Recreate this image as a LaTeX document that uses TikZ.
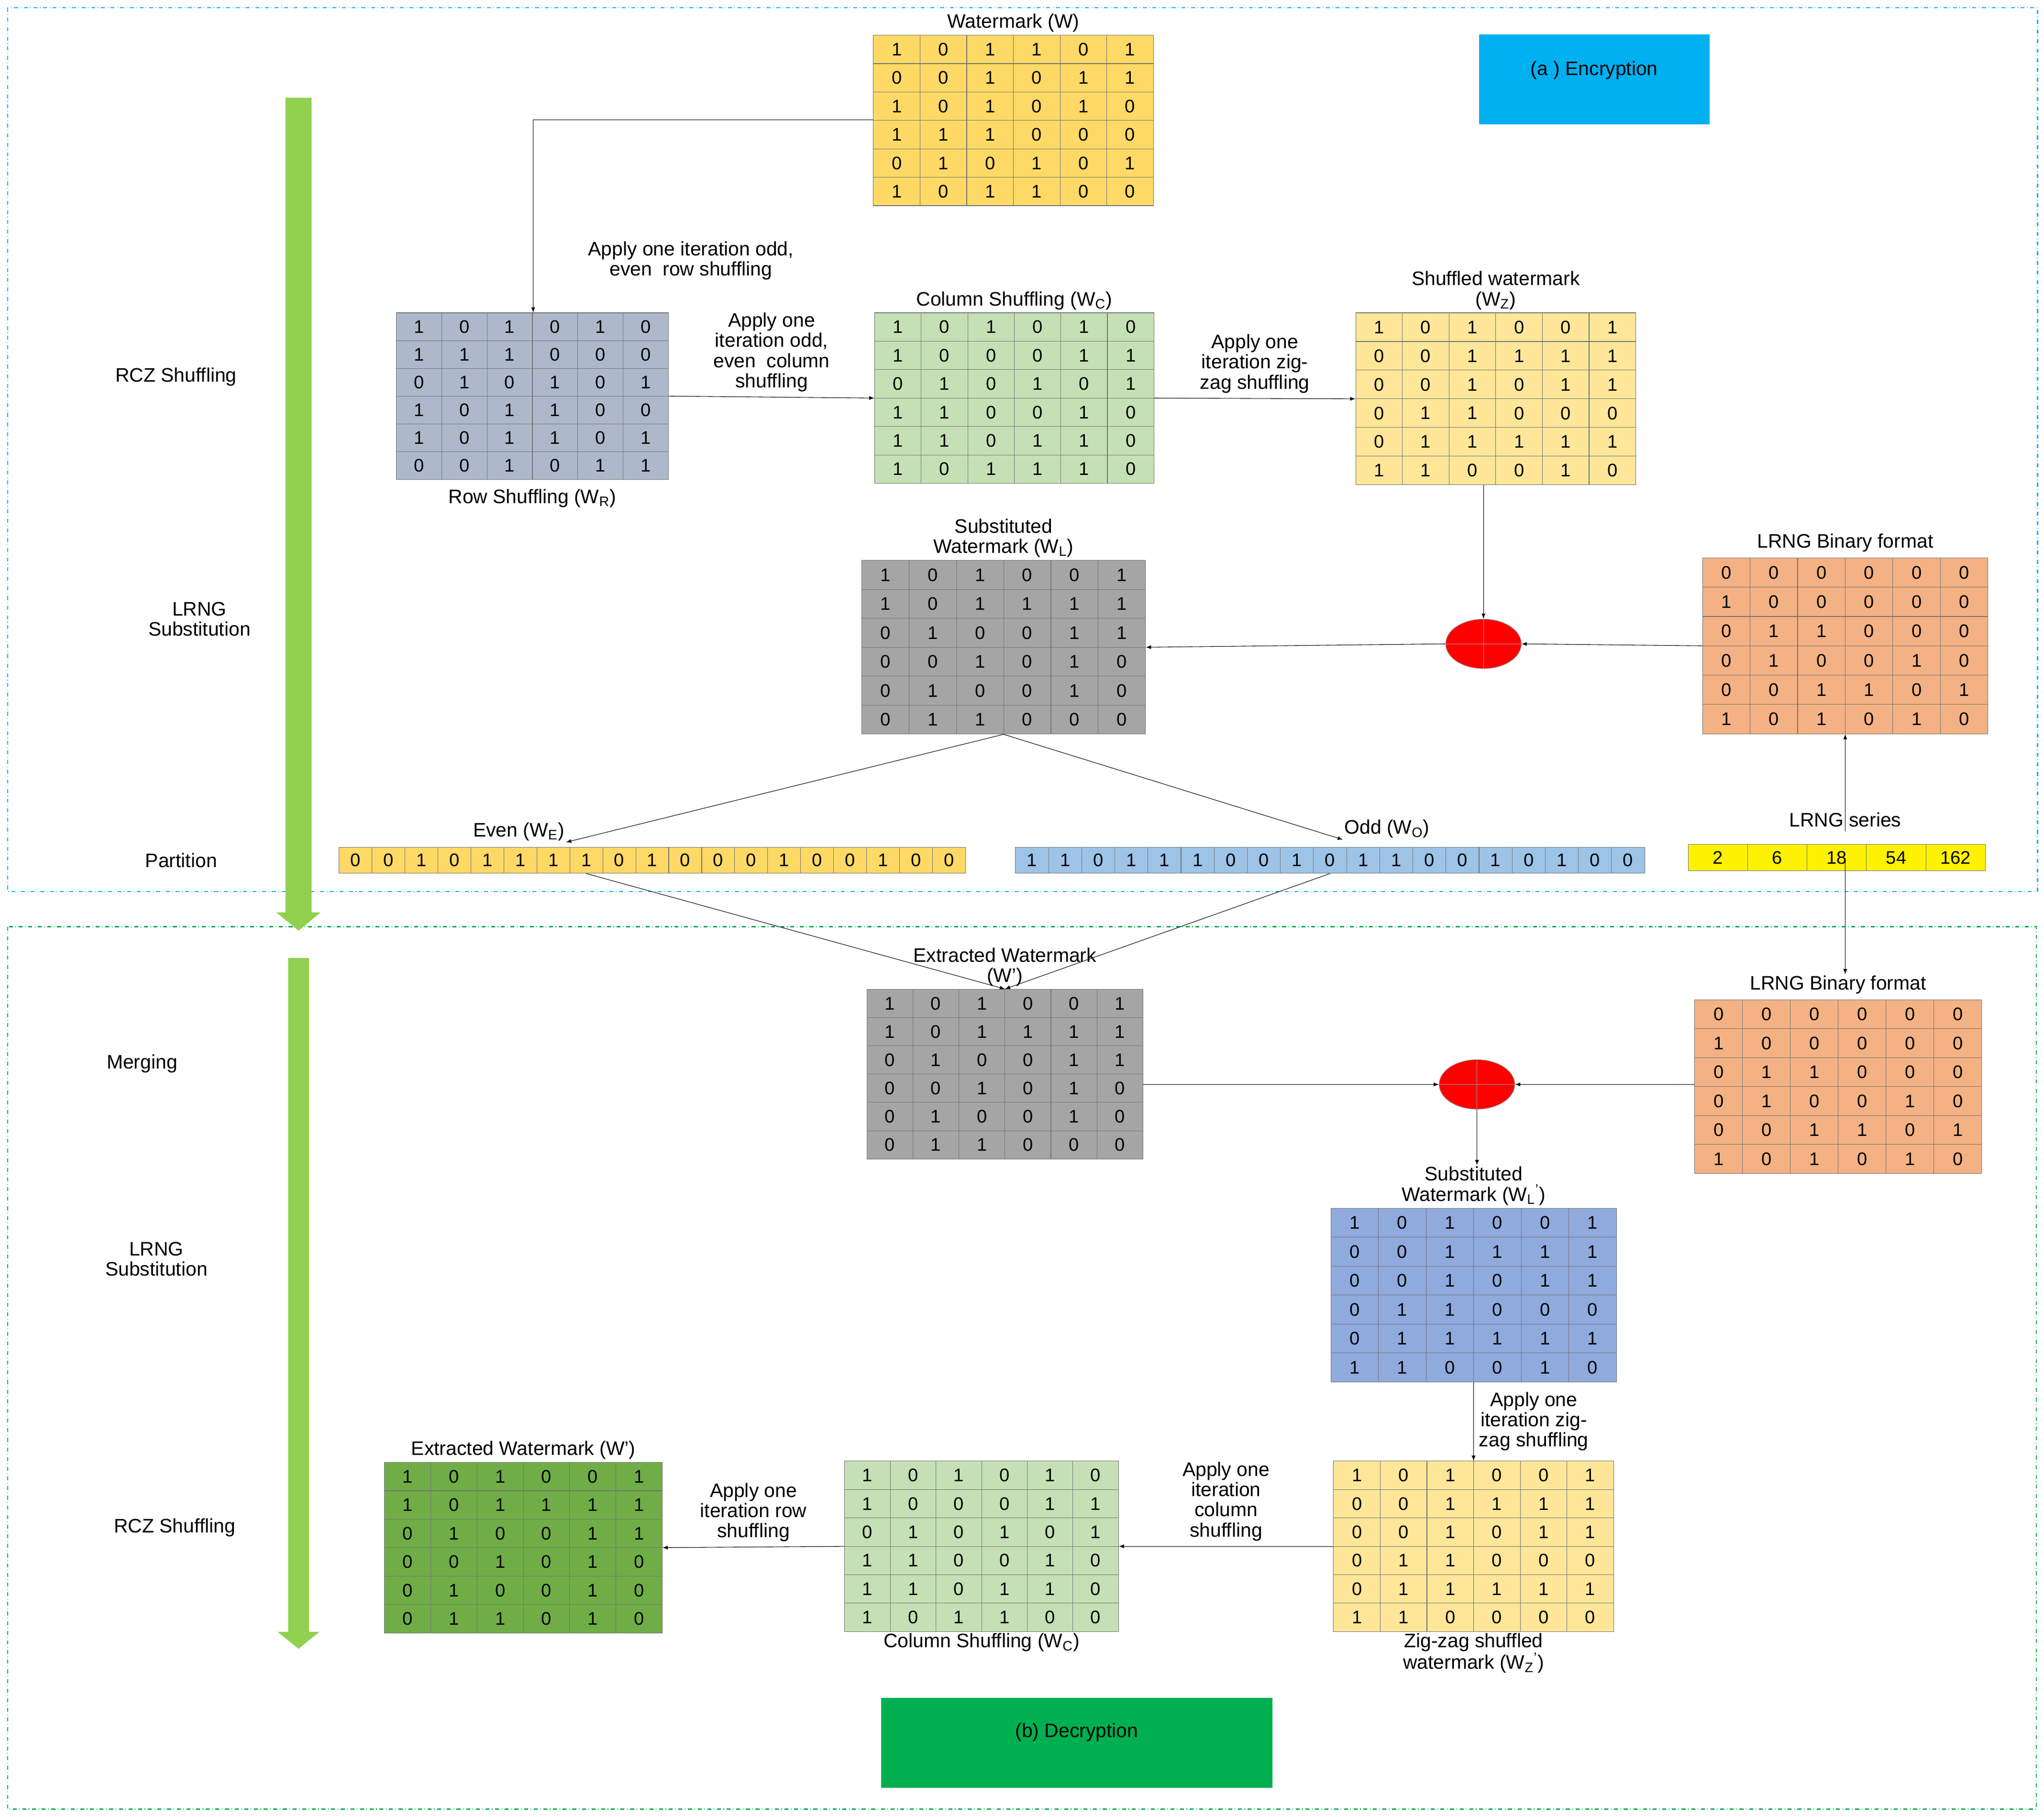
\documentclass[tikz,border=0pt]{standalone}
\usepackage{fontspec}
\setmainfont{Liberation Sans}
\usetikzlibrary{positioning,shapes.geometric}
\usetikzlibrary{calc,arrows}

\definecolor{wmyel}{HTML}{FFD966}
\definecolor{rowblu}{HTML}{ADB9CA}
\definecolor{colgrn}{HTML}{C5E0B4}
\definecolor{zzyel}{HTML}{FFE699}
\definecolor{subgry}{HTML}{A5A5A5}
\definecolor{lrngor}{HTML}{F4B183}
\definecolor{oddblu}{HTML}{9DC3E6}
\definecolor{subblu}{HTML}{8FAADC}
\definecolor{extgrn}{HTML}{70AD47}
\definecolor{arrgrn}{HTML}{92D050}
\definecolor{encblu}{HTML}{00B0F0}
\definecolor{decgrn}{HTML}{00B050}

% grid of bits: name, left, top, cell width, cell height, fill, rows
\newcommand{\bitgrid}[7]{%
	\node[minimum width=6*#4, minimum height=#5*6, inner sep=0pt] (#1) at (#2+3*#4,#3+3*#5) {};
	\foreach \r [count=\i] in {#7}
	{
		\foreach \b [count=\j] in \r
		{
			\node[cell=#6, minimum width=#4, minimum height=#5] (#1-\i-\j) at ({#2+(\j-0.5)*#4},{#3+(\i-0.5)*#5}) {\b};
		}
	}
}
% one row of cells: name, left, top, cell width, cell height, fill, values
\newcommand{\bitrow}[7]{%
	\node[minimum width=#4, minimum height=#5, inner sep=0pt] (#1) at (#2,#3) {};
	\foreach \b [count=\j] in {#7}
	{
		\node[cell=#6, minimum width=#4, minimum height=#5] (#1-\j) at ({#2+(\j-0.5)*#4},{#3+0.5*#5}) {\b};
	}
}

\begin{document}
\begin{tikzpicture}
	[   x=1pt, y=-1pt,
		cell/.style={draw=black!55, fill=#1, inner sep=0pt, font=\fontsize{14}{15}\selectfont},
		tag/.style={align=center, font=\fontsize{15}{15.5}\selectfont, inner sep=1pt},
		xor/.style={draw=black!40, fill=red, ellipse, minimum width=58pt, minimum height=38pt, inner sep=0pt},
		frame/.style={dash dot, line width=0.8pt},
	]
	\tikzset{normal arrow/.style={draw,-latex}}
	\useasboundingbox (0,0) rectangle (1568,1394);
	
	% frames
	\draw[frame,draw=encblu] (6,6) rectangle (1563,684);
	\draw[frame,draw=decgrn] (6,711) rectangle (1562,1388);
	\node[fill=encblu, minimum width=177pt, minimum height=69pt, tag, anchor=center] (enc) at (1223,61) {};
	\node[tag] at (1223,54) {(a ) Encryption};
	\node[fill=decgrn, minimum width=300pt, minimum height=69pt, tag] (dec) at (826,1337) {};
	\node[tag] at (826,1329) {(b) Decryption};
	
	% green flow arrows
	\fill[arrgrn] (219,75) -- (239,75) -- (239,700) -- (246,700) -- (229,714) -- (212,700) -- (219,700) -- cycle;
	\fill[arrgrn] (221,735) -- (237,735) -- (237,1252) -- (245,1252) -- (229,1265) -- (213,1252) -- (221,1252) -- cycle;
	
	% stage names
	\node[tag] (st-1) at (135,289) {RCZ Shuffling};
	\node[tag] (st-2) at (153,475) {LRNG\\Substitution};
	\node[tag] (st-3) at (139,660) {Partition};
	\node[tag] (st-4) at (109,816) {Merging};
	\node[tag] (st-5) at (120,966) {LRNG\\Substitution};
	\node[tag] (st-6) at (134,1172) {RCZ Shuffling};
	
	% encryption grids
	\bitgrid{wm}{670}{27}{35.8}{21.8}{wmyel}{{1,0,1,1,0,1},{0,0,1,0,1,1},{1,0,1,0,1,0},{1,1,1,0,0,0},{0,1,0,1,0,1},{1,0,1,1,0,0}}
	\bitgrid{ws}{304}{240}{34.8}{21.3}{rowblu}{{1,0,1,0,1,0},{1,1,1,0,0,0},{0,1,0,1,0,1},{1,0,1,1,0,0},{1,0,1,1,0,1},{0,0,1,0,1,1}}
	\bitgrid{wc}{671}{240}{35.7}{21.8}{colgrn}{{1,0,1,0,1,0},{1,0,0,0,1,1},{0,1,0,1,0,1},{1,1,0,0,1,0},{1,1,0,1,1,0},{1,0,1,1,1,0}}
	\bitgrid{wz}{1040}{240}{35.8}{22}{zzyel}{{1,0,1,0,0,1},{0,0,1,1,1,1},{0,0,1,0,1,1},{0,1,1,0,0,0},{0,1,1,1,1,1},{1,1,0,0,1,0}}
	\bitgrid{wl}{661}{430}{36.3}{22.2}{subgry}{{1,0,1,0,0,1},{1,0,1,1,1,1},{0,1,0,0,1,1},{0,0,1,0,1,0},{0,1,0,0,1,0},{0,1,1,0,0,0}}
	\bitgrid{lb}{1306}{428}{36.5}{22.5}{lrngor}{{0,0,0,0,0,0},{1,0,0,0,0,0},{0,1,1,0,0,0},{0,1,0,0,1,0},{0,0,1,1,0,1},{1,0,1,0,1,0}}
	\bitrow{we}{260}{650}{25.3}{20}{wmyel}{0,0,1,0,1,1,1,1,0,1,0,0,0,1,0,0,1,0,0}
	\bitrow{wo}{779}{650}{25.4}{20}{oddblu}{1,1,0,1,1,1,0,0,1,0,1,1,0,0,1,0,1,0,0}
	\bitrow{ls}{1295}{648}{45.6}{20}{yellow}{2,6,18,54,162}
	
	\node[tag] at (wm.north) [above=1pt] {Watermark (W)};
	\node[tag] at (ws.south) [below=6pt] {Row Shuffling (W\textsubscript{R})};
	\node[tag] at (wc.north) [above=1pt] {Column Shuffling (W\textsubscript{C})};
	\node[tag] at (wz.north) [above=1pt] {Shuffled watermark\\(W\textsubscript{Z})};
	\node[tag] at (wl.north) [above=1pt] {Substituted\\Watermark (W\textsubscript{L})};
	\node[tag] at (lb.north) [above=3pt] {LRNG Binary format};
	\node[tag] (we-t) at (398,638) {Even (W\textsubscript{E})};
	\node[tag] (wo-t) at (1064,636) {Odd (W\textsubscript{O})};
	\node[tag] at (ls.north -| lb.south) [above=2pt] {LRNG series};
	
	\node[xor] (x1) at (1138,494) {};
	\draw[black!40,thin] (x1.north) -- (x1.south) (x1.west) -- (x1.east);
	
	% encryption connectors
	\coordinate (c1) at (409,92);
	\path[normal arrow] (wm.west |- c1) -- (c1) -- (c1 |- ws.north);
	\node[tag] at (530,200) {Apply one iteration odd,\\even\ \ row shuffling};
	\path[normal arrow] (ws.east) -- node[tag,above=3pt] {Apply one\\iteration odd,\\even\ \ column\\shuffling} (wc.west);
	\path[normal arrow] (wc.east) -- node[tag,above=3pt] {Apply one\\iteration zig-\\zag shuffling} (wz.west);
	\path[normal arrow] (wz.south -| x1) -- (x1.north);
	\path[normal arrow] (lb.west) -- (x1.east);
	\path[normal arrow] (x1.west) -- (wl.east);
	\path[normal arrow] (wl.south) -- (we-t.south east);
	\path[normal arrow] (wl.south) -- (wo-t.south west);
	\path[normal arrow] (ls.north -| lb.south) -- (lb.south);
	
	% decryption grids
	\bitgrid{ex}{665}{759}{35.3}{21.7}{subgry}{{1,0,1,0,0,1},{1,0,1,1,1,1},{0,1,0,0,1,1},{0,0,1,0,1,0},{0,1,0,0,1,0},{0,1,1,0,0,0}}
	\bitgrid{lc}{1300}{767}{36.7}{22.2}{lrngor}{{0,0,0,0,0,0},{1,0,0,0,0,0},{0,1,1,0,0,0},{0,1,0,0,1,0},{0,0,1,1,0,1},{1,0,1,0,1,0}}
	\bitgrid{sb}{1021}{927}{36.5}{22.2}{subblu}{{1,0,1,0,0,1},{0,0,1,1,1,1},{0,0,1,0,1,1},{0,1,1,0,0,0},{0,1,1,1,1,1},{1,1,0,0,1,0}}
	\bitgrid{zz}{1023}{1121}{35.8}{21.8}{zzyel}{{1,0,1,0,0,1},{0,0,1,1,1,1},{0,0,1,0,1,1},{0,1,1,0,0,0},{0,1,1,1,1,1},{1,1,0,0,0,0}}
	\bitgrid{cs}{648}{1121}{35}{21.8}{colgrn}{{1,0,1,0,1,0},{1,0,0,0,1,1},{0,1,0,1,0,1},{1,1,0,0,1,0},{1,1,0,1,1,0},{1,0,1,1,0,0}}
	\bitgrid{ew}{295}{1122}{35.5}{21.8}{extgrn}{{1,0,1,0,0,1},{1,0,1,1,1,1},{0,1,0,0,1,1},{0,0,1,0,1,0},{0,1,0,0,1,0},{0,1,1,0,1,0}}
	
	\node[tag] (ex-t) at (ex.north) [above=1pt] {Extracted Watermark\\(W')};
	\node[tag] (lc-t) at (lc.north) [above=3pt] {LRNG Binary format};
	\node[tag] (sb-t) at (sb.north) [above=1pt] {Substituted\\Watermark (W\textsubscript{L}\textsuperscript{'})};
	\node[tag] at (zz.south) [below=0pt] {Zig-zag shuffled\\watermark (W\textsubscript{Z}\textsuperscript{'})};
	\node[tag] at (cs.south) [below=0pt] {Column Shuffling (W\textsubscript{C})};
	\node[tag] at (ew.north) [above=1pt] {Extracted Watermark (W')};
	
	\node[xor] (x2) at (1133,832) {};
	\draw[black!40,thin] (x2.north) -- (x2.south) (x2.west) -- (x2.east);
	
	% decryption connectors
	\path[normal arrow] (ls.south -| lb.south) -- (lc-t.north -| lb.south);
	\path[normal arrow] (we-8.south) -- (ex.north);
	\path[normal arrow] (wo-10.south) -- (ex.north);
	\path[normal arrow] (ex.east |- x2) -- (x2.west);
	\path[normal arrow] (lc.west |- x2) -- (x2.east);
	\path[normal arrow] (x2.south) -- (sb-t.north -| x2);
	\path[normal arrow] (sb.south -| zz.north) -- node[tag,right=3pt] {Apply one\\iteration zig-\\zag shuffling} (zz.north);
	\path[normal arrow] (zz.west) -- node[tag,above=3pt] {Apply one\\iteration\\column\\shuffling} (cs.east);
	\path[normal arrow] (cs.west) -- node[tag,above=3pt] {Apply one\\iteration row\\shuffling} (ew.east);
\end{tikzpicture}
\end{document}
